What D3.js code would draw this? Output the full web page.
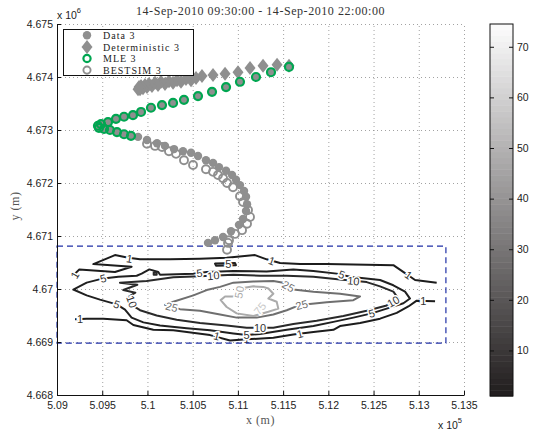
<!DOCTYPE html>
<html>
<head>
<meta charset="utf-8">
<script src="https://cdn.jsdelivr.net/npm/d3@7"></script>
<style>
  body { margin: 0; background: #fff; }
  svg { display: block; }
  .tick text { font-family: "Liberation Sans", Arial, sans-serif; font-size: 10.5px; fill: #222; }
</style>
</head>
<body>
<script>
// ---- axes (x in units of 1e5 m, y in units of 1e6 m) ----
const xDomain = [5.09, 5.135];
const yDomain = [4.668, 4.675];
const xTicks = [5.09, 5.095, 5.1, 5.105, 5.11, 5.115, 5.12, 5.125, 5.13, 5.135];
const xTickLabels = ["5.09", "5.095", "5.1", "5.105", "5.11", "5.115", "5.12", "5.125", "5.13", "5.135"];
const yTicks = [4.668, 4.669, 4.67, 4.671, 4.672, 4.673, 4.674, 4.675];
const yTickLabels = ["4.668", "4.669", "4.67", "4.671", "4.672", "4.673", "4.674", "4.675"];
const colorbarDomain = [1, 74.5];
const colorbarTicks = [10, 20, 30, 40, 50, 60, 70];

// ---- drifter tracks ----
const dataX = [5.11565, 5.11366, 5.112, 5.11023, 5.10869, 5.10714, 5.10559, 5.10404, 5.10283, 5.10161,
  5.10039, 5.09929, 5.0984, 5.09741, 5.09652, 5.09564, 5.09487, 5.09453, 5.09464, 5.0952,
  5.09586, 5.09663, 5.09741, 5.09818, 5.09896, 5.09995, 5.10106, 5.10194, 5.10294, 5.10393,
  5.10482, 5.10559, 5.10647, 5.10725, 5.10791, 5.10869, 5.10935, 5.10979, 5.11023, 5.11068,
  5.1109, 5.11101, 5.1109, 5.11057, 5.11012, 5.10924, 5.10836, 5.10747, 5.1067];
const dataY = [4.67419, 4.67409, 4.674, 4.67391, 4.67381, 4.67372, 4.67364, 4.67357, 4.67351, 4.67347,
  4.67342, 4.67334, 4.67328, 4.67325, 4.67321, 4.67315, 4.67311, 4.67308, 4.67304, 4.67302,
  4.673, 4.67296, 4.67292, 4.67289, 4.67287, 4.67281, 4.67275, 4.6727, 4.67264, 4.6726,
  4.67257, 4.67251, 4.67243, 4.67238, 4.6723, 4.67223, 4.67215, 4.67206, 4.67196, 4.67185,
  4.67174, 4.6716, 4.67147, 4.67132, 4.67121, 4.67109, 4.67098, 4.67092, 4.67087];

const detX = [5.11565, 5.11433, 5.11278, 5.11134, 5.11001, 5.10858, 5.10725, 5.10603, 5.10537, 5.10482,
  5.10426, 5.10371, 5.10327, 5.10283, 5.10238, 5.10194, 5.1015, 5.10117, 5.10084, 5.1005,
  5.10017, 5.09995, 5.09973, 5.09951, 5.09929, 5.09918, 5.09907, 5.09896];
const detY = [4.67421, 4.67423, 4.67421, 4.67417, 4.67409, 4.67406, 4.67404, 4.67402, 4.67398, 4.67394,
  4.67396, 4.67391, 4.67394, 4.67389, 4.67392, 4.67387, 4.67391, 4.67385, 4.67389, 4.67383,
  4.67387, 4.67381, 4.67385, 4.67379, 4.67383, 4.67377, 4.67381, 4.67377];

const mleX = [5.11565, 5.11366, 5.112, 5.11023, 5.10869, 5.10714, 5.10559, 5.10404, 5.10283, 5.10161,
  5.10039, 5.09929, 5.0984, 5.09741, 5.09652, 5.09564, 5.09487, 5.09453, 5.09464, 5.0952,
  5.09586, 5.09663, 5.09741, 5.09818];
const mleY = [4.67419, 4.67409, 4.674, 4.67391, 4.67381, 4.67372, 4.67364, 4.67357, 4.67351, 4.67347,
  4.67342, 4.67334, 4.67328, 4.67325, 4.67321, 4.67315, 4.67311, 4.67308, 4.67304, 4.67302,
  4.673, 4.67296, 4.67292, 4.67289];

const bestX = [5.09995, 5.10084, 5.10161, 5.10238, 5.10316, 5.10404, 5.10504, 5.10647, 5.10725, 5.1078,
  5.10836, 5.1088, 5.10946, 5.11023, 5.11057, 5.11112, 5.11134, 5.11101, 5.11046, 5.10968,
  5.10902, 5.10891, 5.1088];
const bestY = [4.67274, 4.6727, 4.67268, 4.6726, 4.67255, 4.67243, 4.67234, 4.67226, 4.67221, 4.67215,
  4.67209, 4.672, 4.67192, 4.67175, 4.67164, 4.67149, 4.67136, 4.67123, 4.67111, 4.67104,
  4.67092, 4.67087, 4.67074];

// ---- search box ----
const boxX = [5.09, 5.133];
const boxY = [4.66898, 4.67081];

// ---- particle-density contours, one vertex list per contour piece ----
const contour1Top = [[5.09188,4.67027],[5.09247,4.67037],[5.09641,4.67032],[5.09825,4.67042],[5.09402,4.67047],
  [5.09641,4.67064],[5.09789,4.67059],[5.09918,4.67056],[5.1025,4.67056],[5.10581,4.67057],[5.10876,4.67059],
  [5.11189,4.67064],[5.11318,4.67056],[5.11466,4.67049],[5.11687,4.67047],[5.11982,4.67047],[5.12719,4.67045],
  [5.12848,4.6703],[5.12959,4.67017],[5.13198,4.67012]];
const contour1Bottom = [[5.09199,4.66943],[5.09328,4.66944],[5.09512,4.66944],[5.0977,4.66941],[5.09844,4.66932],
  [5.10065,4.66923],[5.10286,4.66922],[5.10692,4.66913],[5.10913,4.66903],[5.11097,4.66905],[5.11392,4.66908],
  [5.11613,4.66914],[5.11835,4.66919],[5.12056,4.66923],[5.12129,4.6693],[5.12351,4.66936],[5.12572,4.66944],
  [5.12756,4.66955],[5.12885,4.66967],[5.12977,4.66978],[5.1318,4.66977]];
const contour5 = [[5.0918,4.66999],[5.09328,4.67012],[5.09512,4.6702],[5.09678,4.67023],[5.09881,4.67025],
  [5.09936,4.67029],[5.10021,4.67037],[5.1012,4.67032],[5.10139,4.67027],[5.10508,4.67029],[5.10655,4.67032],
  [5.1095,4.67034],[5.11318,4.67033],[5.11613,4.67037],[5.11835,4.67034],[5.12093,4.67029],[5.1224,4.67023],
  [5.12572,4.67017],[5.12719,4.67007],[5.12848,4.66995],[5.12903,4.66982],[5.1283,4.66973],[5.12645,4.66963],
  [5.1248,4.66954],[5.12277,4.66946],[5.12056,4.66938],[5.11835,4.6693],[5.1154,4.66923],[5.11245,4.66915],
  [5.11097,4.66913],[5.1095,4.66916],[5.10692,4.66922],[5.10434,4.66926],[5.10139,4.66931],[5.09955,4.66937],
  [5.09825,4.66946],[5.09752,4.66961],[5.0966,4.66971],[5.09475,4.6698],[5.09328,4.66988]];
const contour5Patch = [[5.10747,4.67048],[5.10968,4.67049],[5.10979,4.67045],[5.10758,4.67044]];
const contour10 = [[5.09696,4.67012],[5.09888,4.67008],[5.09733,4.66998],[5.09866,4.66993],[5.0977,4.66983],
  [5.09825,4.6697],[5.09918,4.6696],[5.10102,4.6695],[5.10323,4.66942],[5.10581,4.66936],[5.10876,4.66931],
  [5.11097,4.66927],[5.11392,4.66927],[5.11613,4.66934],[5.11871,4.6694],[5.12166,4.66949],[5.12424,4.66959],
  [5.12645,4.66969],[5.12774,4.66982],[5.12719,4.66995],[5.12572,4.67005],[5.12424,4.67013],[5.12129,4.67018],
  [5.11835,4.67023],[5.1154,4.67025],[5.11245,4.67025],[5.1095,4.67027],[5.10581,4.67024],[5.10286,4.67022],
  [5.09991,4.67015]];
const contour10Dot = [[5.10069,4.67031],[5.10102,4.67031],[5.10102,4.67027],[5.10069,4.67027]];
const contour25 = [[5.10194,4.6697],[5.10286,4.66976],[5.10508,4.66988],[5.10655,4.66998],[5.10803,4.67004],
  [5.1095,4.67012],[5.11171,4.67014],[5.11392,4.67015],[5.11503,4.67012],[5.11613,4.66999],[5.11835,4.66995],
  [5.12129,4.66991],[5.12351,4.66986],[5.12277,4.66979],[5.11982,4.66975],[5.11687,4.6697],[5.1154,4.6696],
  [5.11392,4.66952],[5.11208,4.66946],[5.10987,4.66946],[5.10803,4.66952],[5.10581,4.66959],[5.1036,4.66962]];
const contour50 = [[5.1081,4.66979],[5.10858,4.66986],[5.11005,4.66986],[5.11024,4.67001],[5.11171,4.67005],
  [5.11281,4.67004],[5.11337,4.67001],[5.11392,4.66991],[5.11337,4.66982],[5.11429,4.66976],[5.11447,4.66963],
  [5.11337,4.66957],[5.11171,4.66949],[5.10987,4.66954],[5.10876,4.66966]];
const contour75 = [[5.112,4.66966],[5.11245,4.66971],[5.11289,4.66966],[5.11245,4.66961]];

// contour labels: [level, x, y]
const contourLabels = [
  [1,5.09199,4.67026],[1,5.098,4.67057],[1,5.11374,4.67053],[1,5.12885,4.67026],[1,5.09254,4.66944],
  [1,5.10766,4.66911],[1,5.11097,4.66905],[1,5.11687,4.66915],[1,5.13051,4.66978],
  [5,5.09512,4.6702],[5,5.10574,4.6703],[5,5.12148,4.67027],[5,5.1248,4.66954],[5,5.11097,4.66913],
  [5,5.0966,4.66971],[5,5.10894,4.67047],
  [10,5.09825,4.66976],[10,5.10729,4.67025],[10,5.12277,4.67015],[10,5.12719,4.66976],[10,5.11245,4.66927],
  [25,5.10268,4.66966],[25,5.11558,4.67005],[25,5.11705,4.6697],
  [50,5.11016,4.66994],
  [75,5.11245,4.66963]
];

// ---- drawing ----
const W = 534, H = 437;
const svg = d3.select("body").append("svg").attr("width", W).attr("height", H);

const plot = { left: 57, right: 464, top: 24, bottom: 395 };
const x = d3.scaleLinear().domain(xDomain).range([plot.left, plot.right]);
const y = d3.scaleLinear().domain(yDomain).range([plot.bottom, plot.top]);

const serif = '"Liberation Serif", "Times New Roman", serif';
const sans = '"Liberation Sans", Arial, sans-serif';

// dotted grid
const gridStyle = g => g.selectAll("line").attr("stroke", "#8a8a8a").attr("stroke-width", 0.8).attr("stroke-dasharray", "1,3");
svg.append("g").attr("transform", `translate(0,${plot.bottom})`)
  .call(d3.axisBottom(x).tickValues(xTicks).tickSize(-(plot.bottom - plot.top)).tickFormat(""))
  .call(g => g.select(".domain").remove()).call(gridStyle);
svg.append("g").attr("transform", `translate(${plot.left},0)`)
  .call(d3.axisLeft(y).tickValues(yTicks).tickSize(-(plot.right - plot.left)).tickFormat(""))
  .call(g => g.select(".domain").remove()).call(gridStyle);

// contour lines
const levelColor = d3.scaleOrdinal().domain([1, 5, 10, 25, 50, 75])
  .range(["#1c1c1c", "#202020", "#2a2a2a", "#6f6f6f", "#ababab", "#c9c9c9"]);
const openLine = d3.line().x(d => x(d[0])).y(d => y(d[1]));
const closedLine = d3.line().x(d => x(d[0])).y(d => y(d[1])).curve(d3.curveLinearClosed);
const contourPieces = [
  [1, contour1Top, false], [1, contour1Bottom, false], [5, contour5, true], [5, contour5Patch, true],
  [10, contour10, true], [10, contour10Dot, true], [25, contour25, true], [50, contour50, true], [75, contour75, true]
];
const cg = svg.append("g");
contourPieces.forEach(([lev, pts, closed]) => {
  cg.append("path").attr("d", closed ? closedLine(pts) : openLine(pts))
    .attr("fill", "none").attr("stroke", levelColor(lev)).attr("stroke-width", 2)
    .attr("stroke-linejoin", "round");
});
const labelAngles = [-60, 10, 20, 35, 0, 15, 0, -15, 0, -15, -5, 20, -15, 0, 20, 0, 70, -5, 5, -30, 0, 15, 30, -15, -80, -50];
cg.selectAll("text.clabel").data(contourLabels).join("text")
  .attr("class", "clabel")
  .attr("transform", (d, i) => `translate(${x(d[1])},${y(d[2])}) rotate(${labelAngles[i]})`)
  .attr("text-anchor", "middle").attr("dy", "0.35em")
  .attr("font-family", sans).attr("font-size", 11)
  .attr("fill", d => d[0] >= 25 ? levelColor(d[0]) : "#333")
  .attr("stroke", "#fff").attr("stroke-width", 3).attr("paint-order", "stroke")
  .text(d => d[0]);

// dashed search box
svg.append("rect")
  .attr("x", x(boxX[0])).attr("y", y(boxY[1]))
  .attr("width", x(boxX[1]) - x(boxX[0])).attr("height", y(boxY[0]) - y(boxY[1]))
  .attr("fill", "none").attr("stroke", "#1f2fa6").attr("stroke-width", 1.2).attr("stroke-dasharray", "6,4");

// tracks
const grayMark = "#8f8f8f";
const green = "#00a651";
const diamond = "M0,-7L5.5,0L0,7L-5.5,0Z";
svg.append("g").selectAll("circle").data(d3.zip(dataX, dataY)).join("circle")
  .attr("cx", d => x(d[0])).attr("cy", d => y(d[1])).attr("r", 4.2).attr("fill", grayMark);
svg.append("g").selectAll("path").data(d3.zip(detX, detY)).join("path")
  .attr("transform", d => `translate(${x(d[0])},${y(d[1])})`).attr("d", diamond).attr("fill", grayMark);
svg.append("g").selectAll("circle").data(d3.zip(mleX, mleY)).join("circle")
  .attr("cx", d => x(d[0])).attr("cy", d => y(d[1])).attr("r", 4).attr("fill", "none")
  .attr("stroke", green).attr("stroke-width", 2.2);
svg.append("g").selectAll("circle").data(d3.zip(bestX, bestY)).join("circle")
  .attr("cx", d => x(d[0])).attr("cy", d => y(d[1])).attr("r", 4).attr("fill", "none")
  .attr("stroke", grayMark).attr("stroke-width", 1.9);

// axes with inward ticks
const xAxis = svg.append("g").attr("transform", `translate(0,${plot.bottom})`)
  .call(d3.axisBottom(x).tickValues(xTicks).tickFormat((d, i) => xTickLabels[i])
    .tickSizeInner(-4).tickSizeOuter(0).tickPadding(7));
const yAxis = svg.append("g").attr("transform", `translate(${plot.left},0)`)
  .call(d3.axisLeft(y).tickValues(yTicks).tickFormat((d, i) => yTickLabels[i])
    .tickSizeInner(-4).tickSizeOuter(0).tickPadding(4));
[xAxis, yAxis].forEach(a => {
  a.select(".domain").attr("stroke", "#111").attr("stroke-width", 1);
  a.selectAll(".tick line").attr("stroke", "#111");
});

// exponent markers
const expo = (tx, ty, p) => {
  const t = svg.append("text").attr("x", tx).attr("y", ty)
    .attr("font-family", sans).attr("font-size", 10.5).attr("fill", "#222");
  t.append("tspan").text("x 10");
  t.append("tspan").attr("dy", -6).attr("font-size", 7.5).text(p);
};
expo(57, 19, "6");
expo(438, 429, "5");

// title and axis labels
svg.append("text").attr("x", (plot.left + plot.right) / 2).attr("y", 15)
  .attr("text-anchor", "middle").attr("font-family", serif).attr("font-size", 12)
  .attr("letter-spacing", "0.55px").attr("fill", "#333")
  .text("14-Sep-2010 09:30:00 - 14-Sep-2010 22:00:00");
svg.append("text").attr("x", (plot.left + plot.right) / 2).attr("y", 424)
  .attr("text-anchor", "middle").attr("font-family", serif).attr("font-size", 12)
  .attr("letter-spacing", "0.55px").attr("fill", "#555").text("x (m)");
svg.append("text").attr("transform", "translate(19,206) rotate(-90)")
  .attr("text-anchor", "middle").attr("font-family", serif).attr("font-size", 12)
  .attr("letter-spacing", "0.55px").attr("fill", "#555").text("y (m)");

// legend
const legendItems = ["Data 3", "Deterministic 3", "MLE 3", "BESTSIM 3"];
const lg = svg.append("g");
lg.append("rect").attr("x", 63.5).attr("y", 29.5).attr("width", 130).attr("height", 46)
  .attr("fill", "#fff").attr("stroke", "#111").attr("stroke-width", 1);
const rowY = [35.3, 46.9, 58.5, 70.1];
legendItems.forEach((name, i) => {
  const cy = rowY[i];
  if (i === 0) lg.append("circle").attr("cx", 87).attr("cy", cy).attr("r", 4.2).attr("fill", grayMark);
  if (i === 1) lg.append("path").attr("transform", `translate(87,${cy})`).attr("d", diamond).attr("fill", grayMark);
  if (i === 2) lg.append("circle").attr("cx", 87).attr("cy", cy).attr("r", 3.6).attr("fill", "#fff")
    .attr("stroke", green).attr("stroke-width", 2.2);
  if (i === 3) lg.append("circle").attr("cx", 87).attr("cy", cy).attr("r", 3.6).attr("fill", "#fff")
    .attr("stroke", grayMark).attr("stroke-width", 1.9);
  lg.append("text").attr("x", 103).attr("y", cy + 3.6).attr("font-family", serif).attr("font-size", 10)
    .attr("letter-spacing", "1px").attr("fill", "#222").text(name);
});

// colorbar
const cb = { left: 490, right: 513, top: 24, bottom: 396 };
const cyScale = d3.scaleLinear().domain(colorbarDomain).range([cb.bottom, cb.top]);
const gray = d3.interpolateRgb("#221e1f", "#fbfbfb");
const nBands = 64;
const bandEdges = d3.range(nBands + 1).map(i => colorbarDomain[0] + (colorbarDomain[1] - colorbarDomain[0]) * i / nBands);
svg.append("g").selectAll("rect").data(d3.range(nBands)).join("rect")
  .attr("x", cb.left).attr("width", cb.right - cb.left)
  .attr("y", i => cyScale(bandEdges[i + 1]))
  .attr("height", i => cyScale(bandEdges[i]) - cyScale(bandEdges[i + 1]) + 0.5)
  .attr("fill", i => gray(i / (nBands - 1)));
svg.append("rect").attr("x", cb.left).attr("y", cb.top).attr("width", cb.right - cb.left)
  .attr("height", cb.bottom - cb.top).attr("fill", "none").attr("stroke", "#111").attr("stroke-width", 1);
const cbAxis = svg.append("g").attr("transform", `translate(${cb.right},0)`)
  .call(d3.axisRight(cyScale).tickValues(colorbarTicks).tickSizeInner(-4).tickSizeOuter(0).tickPadding(4));
cbAxis.select(".domain").remove();
cbAxis.selectAll(".tick line").attr("stroke", "#111");
const cbAxisL = svg.append("g").attr("transform", `translate(${cb.left},0)`)
  .call(d3.axisLeft(cyScale).tickValues(colorbarTicks).tickSizeInner(-4).tickSizeOuter(0).tickFormat(""));
cbAxisL.select(".domain").remove();
cbAxisL.selectAll(".tick line").attr("stroke", "#111");
</script>
</body>
</html>
